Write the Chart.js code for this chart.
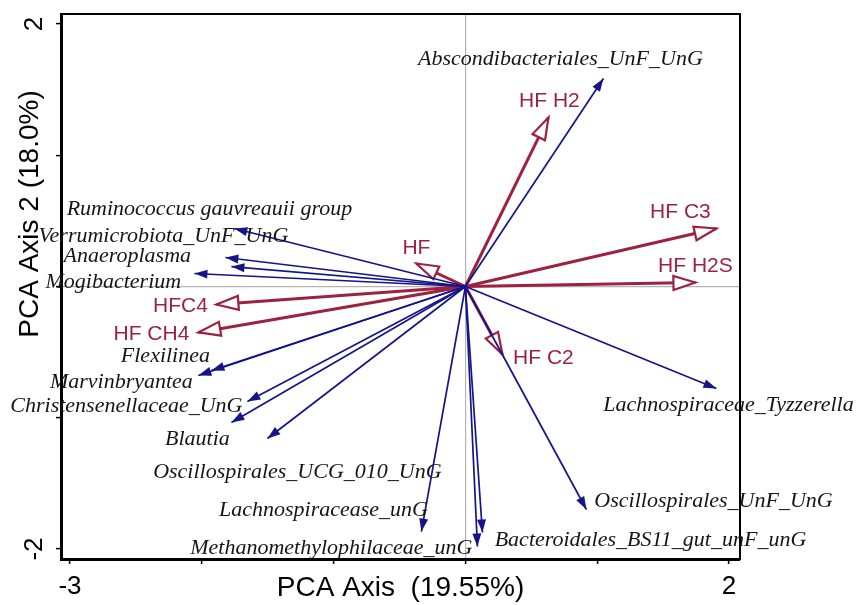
<!DOCTYPE html>
<html lang="en">
<head>
  <meta charset="UTF-8">
  <title>PCA biplot</title>
  <script src="https://cdn.jsdelivr.net/npm/chart.js"></script>
  <style>
    body { margin: 0; background: #fff; }
    #wrap { width: 858px; height: 605px; }
  </style>
</head>
<body>
<div id="wrap"><canvas id="pca"></canvas></div>
<script>
// species arrows (blue)
const taxaNames = [
  'Abscondibacteriales_UnF_UnG', 'Ruminococcus gauvreauii group', 'Verrumicrobiota_UnF_UnG',
  'Anaeroplasma', 'Mogibacterium', 'Flexilinea', 'Marvinbryantea', 'Christensenellaceae_UnG',
  'Blautia', 'Oscillospirales_UCG_010_UnG', 'Lachnospiracease_unG', 'Methanomethylophilaceae_unG',
  'Bacteroidales_BS11_gut_unF_unG', 'Oscillospirales_UnF_UnG', 'Lachnospiraceae_Tyzzerella'
];
const taxaX = [1.047, -1.753, -1.821, -1.775, -2.056, -1.927, -2.026, -1.654, -1.775, -1.502, -0.334, 0.091, 0.129, 0.918, 1.904];
const taxaY = [1.585, 0.442, 0.221, 0.152, 0.099, -0.640, -0.678, -0.876, -1.036, -1.158, -1.867, -1.981, -1.874, -1.699, -0.777];
const taxaLabelX = [0.721, -1.942, -2.291, -2.565, -2.671, -2.276, -2.610, -2.572, -2.033, -1.275, -1.077, -1.017, 1.404, 1.882, 1.995];
const taxaLabelY = [1.730, 0.587, 0.381, 0.229, 0.030, -0.533, -0.731, -0.914, -1.166, -1.417, -1.707, -1.996, -1.935, -1.638, -0.907];

// explanatory variables (red)
const varNames = ['HF', 'HF H2', 'HF C3', 'HF H2S', 'HFC4', 'HF CH4', 'HF C2'];
const varX = [-0.372, 0.630, 1.904, 1.745, -1.889, -2.026, 0.281];
const varY = [0.175, 1.288, 0.442, 0.030, -0.137, -0.350, -0.518];
const varLabelX = [-0.372, 0.637, 1.631, 1.745, -2.162, -2.382, 0.592];
const varLabelY = [0.290, 1.410, 0.564, 0.152, -0.152, -0.366, -0.549];

const xTicks = [-3, -2, -1, 0, 1, 2];
const yTicks = [-2, -1, 0, 1, 2];
const xShown = [-3, 2];
const yShown = [-2, 2];

const BLUE = '#15158a';
const RED = '#9c2240';

const datasets = [];
taxaNames.forEach((n, i) => {
  datasets.push({
    label: n, head: 'filled',
    data: [{x: 0, y: 0}, {x: taxaX[i], y: taxaY[i]}],
    borderColor: BLUE, backgroundColor: BLUE, borderWidth: 1.7,
    showLine: true, pointRadius: 0
  });
});
varNames.forEach((n, i) => {
  datasets.push({
    label: n, head: 'open',
    data: [{x: 0, y: 0}, {x: varX[i], y: varY[i]}],
    borderColor: RED, backgroundColor: RED, borderWidth: 3,
    showLine: true, pointRadius: 0
  });
});

const arrowHeads = {
  id: 'arrowHeads',
  afterDatasetDraw(chart, args) {
    const ds = chart.data.datasets[args.index];
    const sx = chart.scales.x, sy = chart.scales.y;
    const ox = sx.getPixelForValue(0), oy = sy.getPixelForValue(0);
    const tx = sx.getPixelForValue(ds.data[1].x), ty = sy.getPixelForValue(ds.data[1].y);
    const len = Math.hypot(tx - ox, ty - oy);
    const ux = (tx - ox) / len, uy = (ty - oy) / len;
    const L = ds.head === 'open' ? 22 : 13;
    const W = ds.head === 'open' ? 7 : 4.5;
    const bx = tx - ux * L, by = ty - uy * L;
    const ctx = chart.ctx;
    ctx.save();
    ctx.beginPath();
    ctx.moveTo(tx, ty);
    ctx.lineTo(bx - uy * W, by + ux * W);
    ctx.lineTo(bx + uy * W, by - ux * W);
    ctx.closePath();
    if (ds.head === 'open') {
      ctx.fillStyle = '#fff';
      ctx.fill();
      ctx.lineWidth = 2.2;
      ctx.strokeStyle = RED;
      ctx.stroke();
    } else {
      ctx.fillStyle = BLUE;
      ctx.fill();
    }
    ctx.restore();
  }
};

const extras = {
  id: 'extras',
  beforeDatasetsDraw(chart) {
    const a = chart.chartArea, ctx = chart.ctx;
    ctx.save();
    ctx.strokeStyle = '#000';
    ctx.lineWidth = 2;
    ctx.strokeRect(a.left, a.top, a.right - a.left, a.bottom - a.top);
    ctx.restore();
  },
  afterDraw(chart) {
    const sx = chart.scales.x, sy = chart.scales.y, ctx = chart.ctx, a = chart.chartArea;
    ctx.save();
    ctx.textAlign = 'center';
    ctx.textBaseline = 'middle';
    ctx.font = 'italic 20px "Liberation Serif"';
    ctx.fillStyle = '#151515';
    taxaNames.forEach((n, i) => {
      ctx.save();
      ctx.translate(sx.getPixelForValue(taxaLabelX[i]), sy.getPixelForValue(taxaLabelY[i]));
      ctx.scale(1.1, 1);
      ctx.fillText(n, 0, 0);
      ctx.restore();
    });
    ctx.font = '21px "Liberation Sans"';
    ctx.fillStyle = RED;
    varNames.forEach((n, i) => {
      ctx.fillText(n, sx.getPixelForValue(varLabelX[i]), sy.getPixelForValue(varLabelY[i]));
    });
    // y axis title
    ctx.font = '28px "Liberation Sans"';
    ctx.fillStyle = '#000';
    ctx.translate(a.left - 31, a.top + 200);
    ctx.rotate(-Math.PI / 2);
    ctx.fillText('PCA Axis 2 (18.0%)', 0, 0);
    ctx.restore();
  }
};

new Chart(document.getElementById('pca'), {
  type: 'scatter',
  data: { datasets },
  options: {
    responsive: true,
    maintainAspectRatio: false,
    animation: false,
    layout: { padding: { top: 14, right: 118, left: 0, bottom: 0 } },
    plugins: { legend: { display: false }, tooltip: { enabled: false } },
    scales: {
      x: {
        type: 'linear', min: -3.068, max: 2.083,
        afterBuildTicks: s => { s.ticks = xTicks.map(v => ({ value: v })); },
        afterFit: s => { s.height = 46; s.paddingLeft = 0; s.paddingRight = 0; },
        ticks: {
          color: '#000', font: { family: 'Liberation Sans', size: 26 }, padding: 7,
          maxRotation: 0, autoSkip: false,
          callback: v => xShown.includes(v) ? String(v) : ''
        },
        grid: {
          color: c => c.tick && c.tick.value === 0 ? '#b4b4b4' : 'rgba(0,0,0,0)',
          tickColor: '#000', tickLength: 5, lineWidth: 1.2, tickWidth: 1.5
        },
        border: { color: '#000', width: 3 },
        title: {
          display: true, text: 'PCA Axis  (19.55%)', color: '#000',
          font: { family: 'Liberation Sans', size: 28 }, padding: 0
        }
      },
      y: {
        type: 'linear', min: -2.076, max: 2.076,
        afterBuildTicks: s => { s.ticks = yTicks.map(v => ({ value: v })); },
        afterFit: s => { s.width = 61; s.paddingTop = 0; s.paddingBottom = 0; },
        ticks: {
          color: '#000', font: { family: 'Liberation Sans', size: 26 }, padding: 10,
          minRotation: 90, maxRotation: 90, crossAlign: 'center', autoSkip: false,
          callback: v => yShown.includes(v) ? String(v) : ''
        },
        grid: {
          color: c => c.tick && c.tick.value === 0 ? '#b4b4b4' : 'rgba(0,0,0,0)',
          tickColor: '#000', tickLength: 5, lineWidth: 1.2, tickWidth: 1.5
        },
        border: { color: '#000', width: 3 }
      }
    }
  },
  plugins: [arrowHeads, extras]
});
</script>
</body>
</html>
